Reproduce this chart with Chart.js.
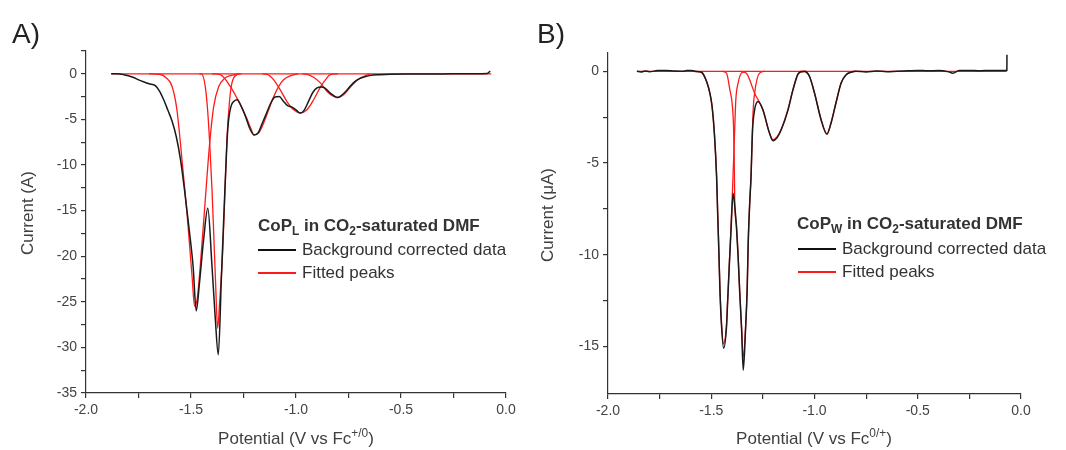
<!DOCTYPE html>
<html lang="en">
<head>
<meta charset="UTF-8">
<title>CoP fitted peaks in CO2-saturated DMF</title>
<script src="https://cdn.jsdelivr.net/npm/chart.js"></script>
<style>
  body { margin: 0; background: #fff; font-family: "Liberation Sans", Arial, sans-serif; }
  .wrap { position: relative; width: 1066px; height: 450px; overflow: hidden; }
  canvas { position: absolute; top: 0; }
  .t { position: absolute; white-space: nowrap; color: #404040; line-height: 20px; }
  .axt { font-size: 17px; }
  .leg { font-size: 17px; color: #333; }
  .legt { font-size: 17px; font-weight: bold; color: #333; }
  .pan { font-size: 28px; line-height: 32px; color: #222; }
  .ln { position: absolute; width: 38px; height: 1.5px; }
  sub, sup { font-size: 0.7em; line-height: 0; }
  sub { vertical-align: -0.3em; }
  sup { vertical-align: 0.55em; }
</style>
</head>
<body>
<div class="wrap">
  <canvas id="chartA" width="533" height="450" style="left:0"></canvas>
  <canvas id="chartB" width="533" height="450" style="left:533px"></canvas>

  <div class="t pan" style="left:12px; top:18px">A)</div>
  <div class="t pan" style="left:537px; top:18px">B)</div>

  <!-- axis titles -->
  <div class="t axt" style="left:296px; top:429px; transform:translateX(-50%)">Potential (V vs Fc<sup>+/0</sup>)</div>
  <div class="t axt" style="left:28px; top:213px; transform:translate(-50%,-50%) rotate(-90deg)">Current (A)</div>
  <div class="t axt" style="left:814px; top:429px; transform:translateX(-50%)">Potential (V vs Fc<sup>0/+</sup>)</div>
  <div class="t axt" style="left:548px; top:215px; transform:translate(-50%,-50%) rotate(-90deg)">Current (μA)</div>

  <!-- legends -->
  <div class="t legt" style="left:258px; top:216px">CoP<sub>L</sub> in CO<sub>2</sub>-saturated DMF</div>
  <div class="ln" style="left:258px; top:249px; background:#111"></div>
  <div class="t leg" style="left:302px; top:240px">Background corrected data</div>
  <div class="ln" style="left:258px; top:272px; background:#ff1a1a"></div>
  <div class="t leg" style="left:302px; top:263px">Fitted peaks</div>

  <div class="t legt" style="left:797px; top:214px">CoP<sub>W</sub> in CO<sub>2</sub>-saturated DMF</div>
  <div class="ln" style="left:798px; top:248px; background:#111"></div>
  <div class="t leg" style="left:842px; top:239px">Background corrected data</div>
  <div class="ln" style="left:798px; top:271px; background:#ff1a1a"></div>
  <div class="t leg" style="left:842px; top:262px">Fitted peaks</div>
</div>

<script>
// ---- panel A: CoP_L, current in A ----
const aData = [
  [-1.88, 0], [-1.85, 0], [-1.82, -0.1], [-1.78, -0.35], [-1.74, -0.75], [-1.70, -1.1],
  [-1.67, -1.3], [-1.65, -1.9], [-1.63, -2.85], [-1.61, -4.0], [-1.59, -5.2], [-1.57, -6.9],
  [-1.55, -9.4], [-1.53, -12.9], [-1.51, -16.8], [-1.49, -21.1], [-1.475, -26.0], [-1.46, -23.0],
  [-1.44, -18.2], [-1.42, -14.75], [-1.40, -21.1], [-1.385, -26.6], [-1.37, -30.8], [-1.355, -22.2],
  [-1.34, -13.5], [-1.325, -6.1], [-1.31, -3.6], [-1.295, -3.0], [-1.28, -2.85], [-1.26, -3.6],
  [-1.24, -4.7], [-1.22, -6.0], [-1.20, -6.7], [-1.18, -6.45], [-1.16, -5.4], [-1.14, -4.3],
  [-1.12, -3.2], [-1.10, -2.55], [-1.08, -2.5], [-1.06, -3.0], [-1.04, -3.5], [-1.02, -3.65],
  [-1.00, -3.95], [-0.98, -4.3], [-0.96, -3.95], [-0.94, -3.0], [-0.92, -2.05], [-0.90, -1.55],
  [-0.88, -1.46], [-0.86, -1.6], [-0.84, -2.05], [-0.82, -2.4], [-0.80, -2.6], [-0.78, -2.3],
  [-0.76, -1.85], [-0.74, -1.3], [-0.72, -0.85], [-0.70, -0.55], [-0.68, -0.37], [-0.65, -0.2],
  [-0.60, -0.1], [-0.55, -0.05], [-0.45, -0.03], [-0.35, -0.02], [-0.25, 0], [-0.15, 0],
  [-0.09, 0.02], [-0.075, 0.3]
];
const aFitBase = [[-1.88, 0], [-0.07, 0]];
const aPeak1 = [
  [-1.70, 0], [-1.65, -0.05], [-1.62, -0.4], [-1.59, -1.4], [-1.567, -3.95], [-1.543, -9.4],
  [-1.519, -15.3], [-1.495, -22.2], [-1.483, -25.5], [-1.47, -24.6], [-1.456, -21.1],
  [-1.432, -13.8], [-1.411, -7.6], [-1.392, -3.6], [-1.368, -1.4], [-1.34, -0.5], [-1.313, -0.2], [-1.27, 0]
];
const aPeak2 = [
  [-1.46, 0], [-1.448, -0.05], [-1.432, -1.4], [-1.421, -3.95], [-1.411, -7.6], [-1.40, -12.7],
  [-1.392, -17.4], [-1.383, -22.9], [-1.373, -27.9], [-1.363, -24.8], [-1.348, -18.95],
  [-1.329, -7.2], [-1.316, -2.85], [-1.305, -1.0], [-1.281, -0.1], [-1.26, 0]
];
const aPeak3 = [
  [-1.40, 0], [-1.36, -0.1], [-1.313, -1.39], [-1.273, -3.04], [-1.235, -4.86], [-1.215, -6.0],
  [-1.20, -6.7], [-1.178, -6.5], [-1.154, -5.4], [-1.13, -3.95], [-1.106, -2.5], [-1.083, -1.4],
  [-1.059, -0.66], [-1.027, -0.22], [-0.99, 0]
];
const aPeak4 = [
  [-1.16, 0], [-1.138, -0.05], [-1.106, -0.66], [-1.075, -1.76], [-1.043, -3.04], [-1.011, -3.95],
  [-0.979, -4.3], [-0.948, -3.95], [-0.916, -2.85], [-0.884, -1.46], [-0.86, -0.66], [-0.837, -0.1], [-0.80, 0]
];
const aPeak5 = [
  [-0.97, 0], [-0.948, -0.05], [-0.916, -0.37], [-0.884, -1.0], [-0.852, -1.94], [-0.821, -2.49],
  [-0.802, -2.6], [-0.773, -2.3], [-0.741, -1.46], [-0.71, -0.73], [-0.678, -0.3], [-0.646, 0]
];

// ---- panel B: CoP_W, current in uA ----
const bData = [
  [-1.86, 0], [-1.84, -0.03], [-1.82, 0.02], [-1.80, -0.02], [-1.76, 0.04], [-1.72, 0.05],
  [-1.68, 0.02], [-1.64, 0], [-1.62, 0.04], [-1.60, 0.05], [-1.58, 0.01], [-1.56, -0.02],
  [-1.547, -0.05], [-1.523, -0.54], [-1.507, -1.17], [-1.496, -1.91], [-1.485, -3.36],
  [-1.474, -5.8], [-1.469, -7.74], [-1.463, -9.92], [-1.458, -11.92], [-1.450, -13.92],
  [-1.440, -15.1], [-1.426, -13.92], [-1.421, -12.65], [-1.413, -10.7], [-1.405, -8.83],
  [-1.394, -6.65], [-1.386, -7.38], [-1.378, -8.47], [-1.370, -10.1], [-1.362, -12.1],
  [-1.353, -14.1], [-1.345, -16.3], [-1.334, -14.1], [-1.326, -11.9], [-1.321, -9.37],
  [-1.313, -7.0], [-1.308, -5.92], [-1.300, -3.2], [-1.290, -2.1], [-1.273, -1.65], [-1.25, -2.1],
  [-1.218, -3.37], [-1.201, -3.78], [-1.18, -3.6], [-1.161, -3.19], [-1.128, -2.1], [-1.104, -1.0],
  [-1.080, -0.15], [-1.065, -0.02], [-1.048, 0], [-1.024, -0.28], [-1.0, -1.19], [-0.968, -2.65],
  [-0.940, -3.43], [-0.920, -2.83], [-0.896, -1.73], [-0.871, -0.64], [-0.847, -0.19],
  [-0.823, -0.05], [-0.80, 0], [-0.75, -0.03], [-0.70, 0.02], [-0.65, -0.02], [-0.60, 0.01],
  [-0.55, 0.03], [-0.50, 0.05], [-0.45, 0.03], [-0.40, 0.04], [-0.35, -0.03], [-0.33, -0.1],
  [-0.30, 0.04], [-0.25, 0.05], [-0.20, 0.03], [-0.15, 0.05], [-0.10, 0.04], [-0.0685, 0.05],
  [-0.068, 0.9]
];
const bFitBase = [[-1.86, 0], [-0.07, 0]];
const bPeak1 = [
  [-1.60, 0], [-1.56, -0.02], [-1.547, -0.05], [-1.523, -0.54], [-1.507, -1.17], [-1.496, -1.91],
  [-1.485, -3.36], [-1.474, -5.7], [-1.469, -7.6], [-1.463, -9.8], [-1.458, -11.8], [-1.450, -13.8],
  [-1.441, -14.85], [-1.426, -13.8], [-1.421, -12.6], [-1.413, -10.6], [-1.405, -8.7], [-1.397, -6.46],
  [-1.386, -3.01], [-1.381, -1.55], [-1.370, -0.64], [-1.354, -0.1], [-1.33, 0]
];
const bPeak2 = [
  [-1.45, 0], [-1.426, -0.1], [-1.410, -1.0], [-1.399, -1.74], [-1.392, -3.01], [-1.389, -4.6],
  [-1.386, -7.2], [-1.378, -8.4], [-1.370, -10.0], [-1.362, -12.0], [-1.353, -14.0], [-1.345, -15.6],
  [-1.334, -14.0], [-1.326, -11.8], [-1.321, -9.3], [-1.313, -7.0], [-1.308, -5.9], [-1.297, -2.1],
  [-1.290, -1.19], [-1.266, -0.1], [-1.24, 0]
];
const bPeak3 = [
  [-1.36, 0], [-1.330, -0.1], [-1.290, -1.19], [-1.25, -2.1], [-1.218, -3.37], [-1.201, -3.74],
  [-1.18, -3.55], [-1.161, -3.15], [-1.128, -2.05], [-1.104, -0.98], [-1.080, -0.15], [-1.05, 0]
];
const bPeak4 = [
  [-1.07, 0], [-1.048, -0.02], [-1.024, -0.28], [-1.0, -1.17], [-0.968, -2.62], [-0.940, -3.4],
  [-0.920, -2.8], [-0.896, -1.7], [-0.871, -0.62], [-0.847, -0.18], [-0.823, -0.04], [-0.80, 0]
];

Chart.defaults.font.family = '"Liberation Sans", Arial, sans-serif';

function line(points, color, width) {
  return {
    data: points.map(p => ({ x: p[0], y: p[1] })),
    showLine: true,
    borderColor: color,
    borderWidth: width,
    pointRadius: 0,
    cubicInterpolationMode: 'monotone'
  };
}

function makeChart(id, yMin, yMax, pad, datasets) {
  return new Chart(document.getElementById(id), {
    type: 'scatter',
    data: { datasets: datasets },
    options: {
      responsive: false,
      animation: false,
      layout: { padding: pad },
      plugins: { legend: { display: false }, tooltip: { enabled: false } },
      scales: {
        x: {
          min: -2, max: 0,
          afterFit: s => { s.height = 40; },
          ticks: {
            stepSize: 0.25, autoSkip: false, maxRotation: 0, padding: 4,
            color: '#444', font: { size: 14 },
            callback: v => Math.abs(v * 2 - Math.round(v * 2)) < 1e-6 ? v.toFixed(1) : ''
          },
          grid: { drawOnChartArea: false, tickLength: 5, color: '#333', lineWidth: 1.2 },
          border: { color: '#333', width: 1.2 }
        },
        y: {
          min: yMin, max: yMax,
          afterFit: s => { s.width = 50; },
          afterBuildTicks: s => {
            s.ticks = s.ticks.filter(t => Math.abs(t.value / 2.5 - Math.round(t.value / 2.5)) < 1e-6);
          },
          ticks: {
            stepSize: 2.5, autoSkip: false, padding: 4,
            color: '#444', font: { size: 14 },
            callback: v => Math.abs(v % 5) < 1e-6 ? String(Math.round(v)).replace('-0', '0') : ''
          },
          grid: { drawOnChartArea: false, tickLength: 5, color: '#333', lineWidth: 1.2 },
          border: { color: '#333', width: 1.2 }
        }
      }
    }
  });
}

// black data first so it sits on top of the fitted peaks
makeChart('chartA', -35, 2.5, { left: 36, right: 27, top: 51, bottom: 17 }, [
  line(aData, '#1a1a1a', 1.5),
  line(aFitBase, '#ff1a1a', 1.3),
  line(aPeak1, '#ff1a1a', 1.3),
  line(aPeak2, '#ff1a1a', 1.3),
  line(aPeak3, '#ff1a1a', 1.3),
  line(aPeak4, '#ff1a1a', 1.3),
  line(aPeak5, '#ff1a1a', 1.3)
]);

makeChart('chartB', -17.6, 1, { left: 25, right: 45, top: 53, bottom: 16 }, [
  line(bData, '#1a1a1a', 1.5),
  line(bFitBase, '#ff1a1a', 1.3),
  line(bPeak1, '#ff1a1a', 1.3),
  line(bPeak2, '#ff1a1a', 1.3),
  line(bPeak3, '#ff1a1a', 1.3),
  line(bPeak4, '#ff1a1a', 1.3)
]);
</script>
</body>
</html>
